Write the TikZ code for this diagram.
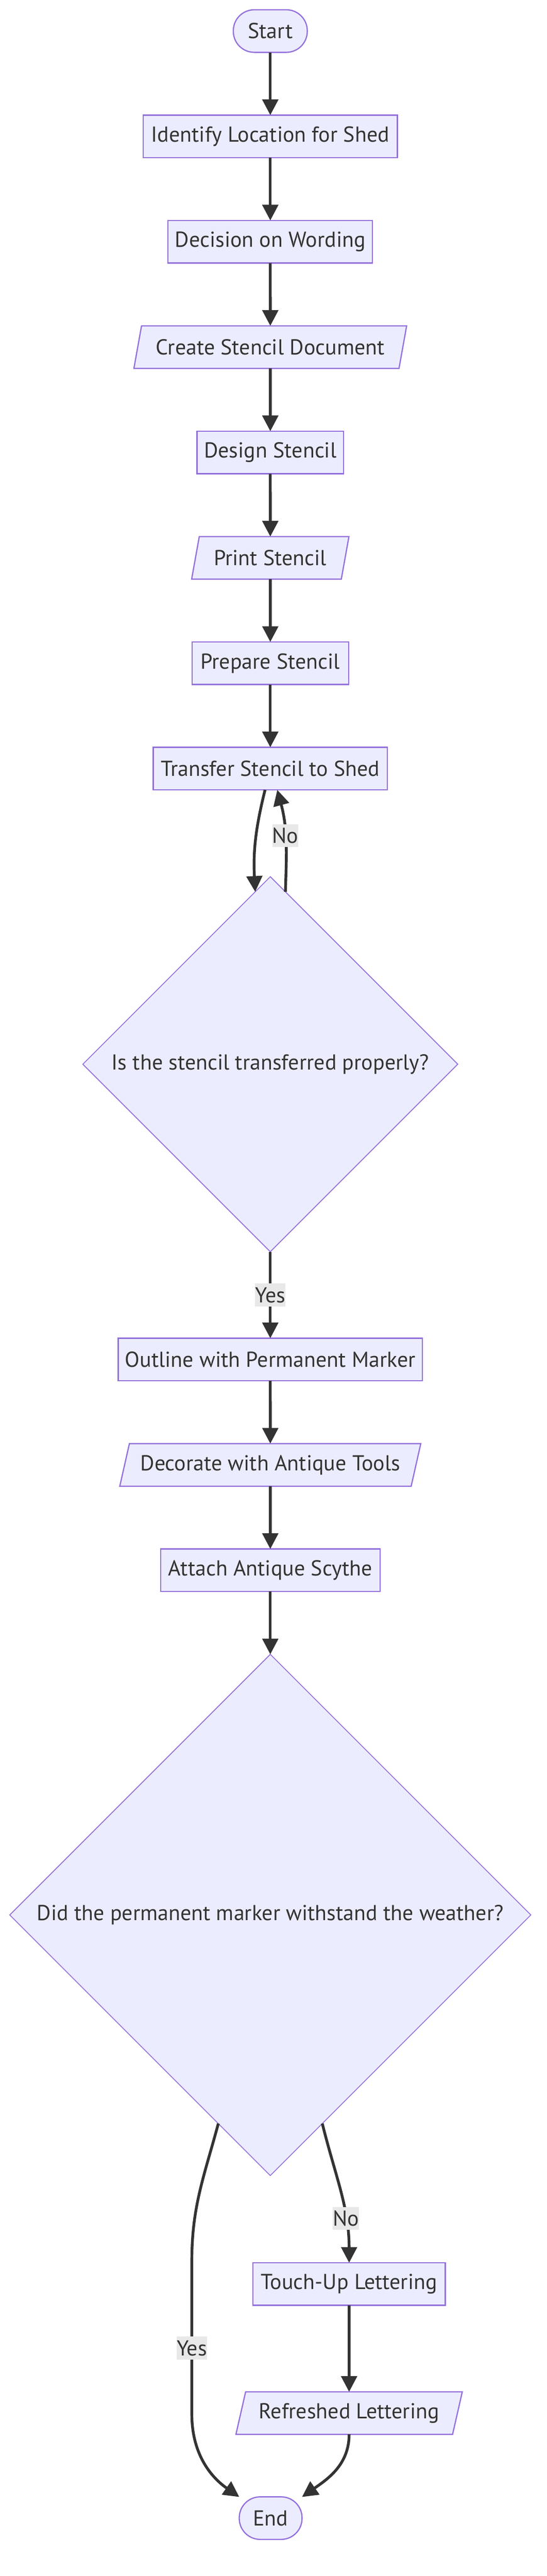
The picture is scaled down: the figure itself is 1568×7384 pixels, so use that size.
\documentclass[tikz,border=0pt]{standalone}
\usepackage{fontspec}
\setmainfont{PT Sans}
\usepackage{xcolor}
\usepackage{tikz}
\usetikzlibrary{arrows.meta,shapes.geometric}
\usetikzlibrary {positioning}

\definecolor{boxfill}{HTML}{ECECFF}
\definecolor{boxline}{HTML}{9370DB}
\definecolor{ink}{HTML}{333333}
\definecolor{tagfill}{HTML}{E8E8E8}

\begin{document}
\begin{tikzpicture}[x=1pt, y=-1pt, node distance=180pt,
    box/.style={rectangle, draw=boxline, fill=boxfill, line width=3.5pt, text=ink,
      font=\fontsize{62}{74}\selectfont, minimum height=122pt,
      inner xsep=20pt, inner ysep=0pt, outer sep=0pt},
    term/.style={box, rounded corners=60pt},
    iobox/.style={box, trapezium, trapezium left angle=64, trapezium right angle=116,
      trapezium stretches body},
    ask/.style={box, diamond, aspect=1, inner sep=0pt, line width=2.5pt},
    flow/.style={draw=ink, line width=8pt, -{Triangle[length=45pt, width=45pt]}},
    back/.style={draw=ink, line width=8pt, {Triangle[length=45pt, width=45pt]}-},
    tag/.style={fill=tagfill, text=ink, font=\fontsize{62}{74}\selectfont,
      inner sep=0pt, minimum height=66pt}]
    \useasboundingbox (0,0) rectangle (1568,7384);
    \node(S) at (775,89) [term, minimum width=212pt] {Start};
    \node(ID) [below=of S] [box, minimum width=729pt] {Identify Location for Shed}
      edge [back] (S)
      ;
    \node(DW) [below=of ID] [box, minimum width=577pt] {Decision on Wording}
      edge [back] (ID)
      ;
    \node(CS) [below=of DW] [iobox, minimum width=782pt] {Create Stencil Document}
      edge [back] (DW)
      ;
    \node(DS) [below=of CS] [box, minimum width=416pt] {Design Stencil}
      edge [back] (CS)
      ;
    \node(PS) [below=of DS] [iobox, minimum width=451pt] {Print Stencil}
      edge [back] (DS)
      ;
    \node(PR) [below=of PS] [box, minimum width=449pt] {Prepare Stencil}
      edge [back] (PS)
      ;
    \node(TR) [below=of PR] [box, minimum width=671pt] {Transfer Stencil to Shed}
      edge [back] (PR)
      ;
    \node(D1) [below=249pt of TR] [ask, minimum size=1075pt] {Is the stencil transferred properly?};
    \draw [flow] ([xshift=-15pt]TR.south) to [out=-104, in=93] (D1.95);
    \draw [flow] (D1.85) to [out=88, in=-75] node [tag, pos=0.55] {No} ([xshift=20pt]TR.south);
    \node(OM) [below=248pt of D1] [box, minimum width=870pt] {Outline with Permanent Marker}
      edge [back] node [tag] {Yes} (D1)
      ;
    \node(DT) [below=of OM] [iobox, minimum width=863pt] {Decorate with Antique Tools}
      edge [back] (OM)
      ;
    \node(AS) [below=of DT] [box, minimum width=629pt] {Attach Antique Scythe}
      edge [back] (DT)
      ;
    \node(D2) [below=of AS] [ask, minimum size=1494pt] {Did the permanent marker withstand the weather?}
      edge [back] (AS)
      ;
    \node(TU) at (1001,6547) [box, minimum width=551pt] {Touch-Up Lettering};
    \node(RL) [below=248pt of TU] [iobox, minimum width=649pt] {Refreshed Lettering}
      edge [back] (TU)
      ;
    \node(E) at (776,7218) [term, minimum width=180pt] {End};
    \coordinate (yesTop) at (550,6480);
    \coordinate (yesBot) at (550,6920);
    \draw [flow] (D2.256) to [out=-105, in=90] (yesTop)
      -- node [tag, pos=0.57] {Yes} (yesBot)
      to [out=-90, in=145] (E.146);
    \draw [flow] (D2.284) to [out=-76, in=90] node [tag, pos=0.7] {No} (TU.north);
    \draw [flow] (RL.south) to [out=-90, in=35] (E.34);
  \end{tikzpicture}
\end{document}
